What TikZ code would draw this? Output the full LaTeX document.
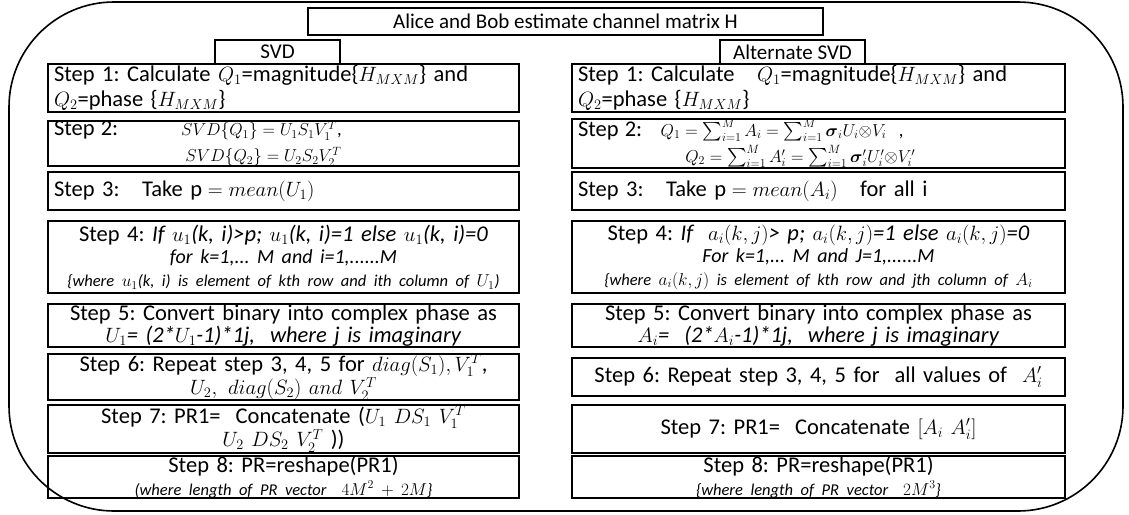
\documentclass[tikz,border=0pt]{standalone}
\usepackage{amsmath, amssymb}
\usepackage{fontspec}
\setmainfont{Carlito}
\usepackage{tikz}
\usetikzlibrary{positioning}

\tikzset{
    stepbox/.style={rectangle, draw=black, line width=1.6pt, inner xsep=6pt, inner ysep=0pt,
        font=\fontsize{22.5}{22.5}\selectfont},
    leftstep/.style={stepbox, text width=459pt},
    rightstep/.style={stepbox, text width=481pt},
    headbox/.style={rectangle, draw=black, line width=1.6pt, inner sep=0pt,
        font=\fontsize{21}{24}\selectfont},
}
\newcommand{\smallit}{\fontsize{16.5}{17}\selectfont\itshape}
\newcommand{\midit}{\fontsize{20}{21}\selectfont\itshape}
\newcommand{\bodysize}{\fontsize{22.5}{22.5}\selectfont}
\setlength{\lineskiplimit}{-30pt}
\setlength{\lineskip}{0pt}
\frenchspacing

\begin{document}
\begin{tikzpicture}[x=1pt, y=-1pt]
    \useasboundingbox (0,0) rectangle (1129,514);
    \draw[line width=1.6pt, rounded corners=105pt] (9,2) rectangle (1123,511);

    % headings
    \node[headbox, minimum width=515pt, minimum height=27pt] (title) at (565.5,21.5) {Alice and Bob estimate channel matrix H};
    \node[headbox, minimum width=125pt, minimum height=24pt] (svd) at (277.5,52) {SVD};
    \node[headbox, minimum width=145pt, minimum height=24pt] (altsvd) at (792.5,52) {Alternate SVD};

    % SVD column
    \node[leftstep, align=left, minimum height=48pt, font=\fontsize{22.5}{25}\selectfont] (l1) at (283.5,88) {
        Step 1: Calculate $Q_1$=magnitude\{$H_{MXM}$\} and\\
        $Q_2$=phase \{$H_{MXM}$\}
    };
    \node[leftstep, align=left, minimum height=41pt, font=\fontsize{18.5}{26}\selectfont] (l2) at (283.5,143.5) {
        {\bodysize Step 2:}\hspace{3.4em}$SVD\{Q_1\} = U_1S_1V_1^T$,\\
        \hspace{7.1em}$SVD\{Q_2\} = U_2S_2V_2^T$
    };
    \node[leftstep, align=left, minimum height=38pt] (l3) at (283.5,191) {
        Step 3:~~ Take $\mathrm{p} = mean(U_1)$
    };
    \node[leftstep, align=center, minimum height=72pt] (l4) at (283.5,257) {
        Step 4: \textit{If $u_1$(k, i)>p; $u_1$(k, i)=1 else $u_1$(k, i)=0}\\
        {\midit for k=1,... M and i=1,......M}\\
        {\smallit \{where $u_1$(k, i) is element of kth row and ith column of $U_1$)}
    };
    \node[leftstep, align=center, minimum height=43pt] (l5) at (283.5,325.5) {
        Step 5: Convert binary into complex phase as\\
        \textit{$U_1$= (2*$U_1$-1)*1j,~ where j is imaginary}
    };
    \node[leftstep, align=center, minimum height=38pt] (l6) at (283.5,377) {
        Step 6: Repeat step 3, 4, 5 for $diag(S_1), V_1^T$,\\
        $U_2,\ diag(S_2)\ and\ V_2^T$
    };
    \node[leftstep, align=center, minimum height=48pt] (l7) at (283.5,429) {
        Step 7: PR1=~ Concatenate ($U_1\ DS_1\ V_1^T$\\
        $U_2\ DS_2\ V_2^T$ ))
    };
    \node[leftstep, align=center, minimum height=36pt] (l8) at (283.5,477) {
        Step 8: PR=reshape(PR1)\\
        {\smallit (where length of PR vector~ $4M^2+2M$\}}
    };

    % Alternate SVD column
    \node[rightstep, align=left, minimum height=48pt, font=\fontsize{22.5}{25}\selectfont] (r1) at (818.5,88) {
        Step 1: Calculate~~ $Q_1$=magnitude\{$H_{MXM}$\} and\\
        $Q_2$=phase \{$H_{MXM}$\}
    };
    \node[rightstep, align=left, minimum height=41pt, font=\fontsize{18.5}{26}\selectfont] (r2) at (818.5,143.5) {
        {\bodysize Step 2:}~~ $Q_1 = \sum_{i=1}^{M} A_i = \sum_{i=1}^{M} \boldsymbol{\sigma}_i U_i{\otimes}V_i$~ ,\\
        \hspace{5.8em}$Q_2 = \sum_{i=1}^{M} A_i' = \sum_{i=1}^{M} \boldsymbol{\sigma}_i' U_i'{\otimes}V_i'$
    };
    \node[rightstep, align=left, minimum height=38pt] (r3) at (818.5,191) {
        Step 3:~~ Take $\mathrm{p} = mean(A_i)$~~ for all i
    };
    \node[rightstep, align=center, minimum height=72pt] (r4) at (818.5,257) {
        Step 4: \textit{If~ $a_i(k,j)$> p; $a_i(k,j)$=1 else $a_i(k,j)$=0}\\
        {\midit For k=1,... M and J=1,......M}\\
        {\smallit \{where $a_i(k,j)$ is element of kth row and jth column of $A_i$}
    };
    \node[rightstep, align=center, minimum height=43pt] (r5) at (818.5,325.5) {
        Step 5: Convert binary into complex phase as\\
        \textit{$A_i$=~ (2*$A_i$-1)*1j,~ where j is imaginary}
    };
    \node[rightstep, align=center, minimum height=38pt] (r6) at (818.5,377) {
        Step 6: Repeat step 3, 4, 5 for~ all values of~ $A_i'$
    };
    \node[rightstep, align=center, minimum height=48pt] (r7) at (818.5,429) {
        Step 7: PR1=~ Concatenate $[A_i\ A_i']$
    };
    \node[rightstep, align=center, minimum height=36pt] (r8) at (818.5,477) {
        Step 8: PR=reshape(PR1)\\
        {\smallit \{where length of PR vector~ $2M^3$\}}
    };
\end{tikzpicture}
\end{document}
